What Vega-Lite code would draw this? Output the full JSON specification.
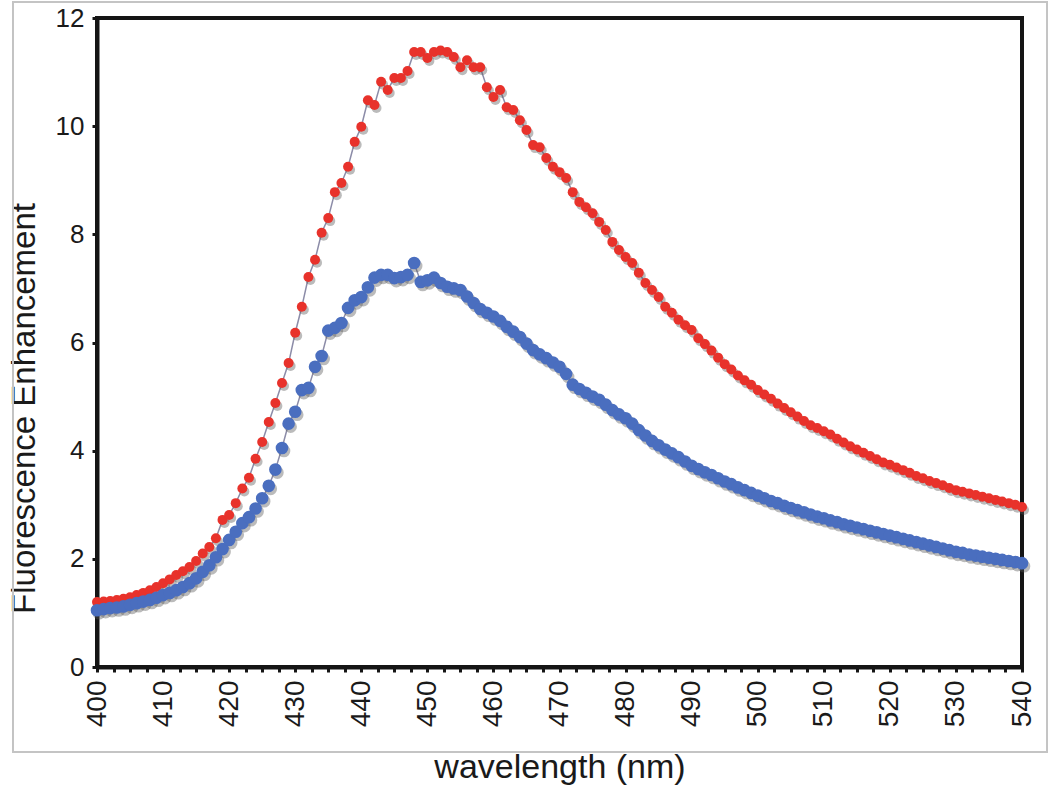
{
  "$schema": "https://vega.github.io/schema/vega-lite/v6.json",
  "autosize": "none",
  "width": 925,
  "height": 649,
  "padding": {"left": 97, "top": 18, "right": 28, "bottom": 122},
  "background": "white",
  "config": {
    "font": "Liberation Sans",
    "view": {"stroke": "#151515", "strokeWidth": 4},
    "axis": {"grid": false, "domainColor": "#151515", "domainWidth": 4, "tickColor": "#151515", "labelColor": "#1a1a1a", "titleColor": "#1a1a1a", "titleFontWeight": "normal", "labelFont": "Liberation Sans", "titleFont": "Liberation Sans"}
  },
  "data": {"values": [
    {"wl":400,"red":1.20,"blue":1.05},{"wl":401,"red":1.21,"blue":1.07},{"wl":402,"red":1.22,"blue":1.09},{"wl":403,"red":1.24,"blue":1.10},{"wl":404,"red":1.26,"blue":1.12},
    {"wl":405,"red":1.29,"blue":1.15},{"wl":406,"red":1.33,"blue":1.18},{"wl":407,"red":1.37,"blue":1.21},{"wl":408,"red":1.42,"blue":1.24},{"wl":409,"red":1.48,"blue":1.28},
    {"wl":410,"red":1.55,"blue":1.33},{"wl":411,"red":1.62,"blue":1.37},{"wl":412,"red":1.70,"blue":1.42},{"wl":413,"red":1.77,"blue":1.48},{"wl":414,"red":1.85,"blue":1.55},
    {"wl":415,"red":1.96,"blue":1.64},{"wl":416,"red":2.10,"blue":1.76},{"wl":417,"red":2.22,"blue":1.88},{"wl":418,"red":2.38,"blue":2.03},{"wl":419,"red":2.72,"blue":2.18},
    {"wl":420,"red":2.81,"blue":2.35},{"wl":421,"red":3.03,"blue":2.50},{"wl":422,"red":3.30,"blue":2.66},{"wl":423,"red":3.50,"blue":2.77},{"wl":424,"red":3.85,"blue":2.93},
    {"wl":425,"red":4.16,"blue":3.12},{"wl":426,"red":4.53,"blue":3.35},{"wl":427,"red":4.88,"blue":3.65},{"wl":428,"red":5.25,"blue":4.05},{"wl":429,"red":5.62,"blue":4.50},
    {"wl":430,"red":6.18,"blue":4.72},{"wl":431,"red":6.66,"blue":5.12},{"wl":432,"red":7.21,"blue":5.16},{"wl":433,"red":7.53,"blue":5.55},{"wl":434,"red":8.03,"blue":5.75},
    {"wl":435,"red":8.30,"blue":6.22},{"wl":436,"red":8.78,"blue":6.27},{"wl":437,"red":8.95,"blue":6.36},{"wl":438,"red":9.25,"blue":6.64},{"wl":439,"red":9.71,"blue":6.78},
    {"wl":440,"red":9.99,"blue":6.84},{"wl":441,"red":10.48,"blue":7.02},{"wl":442,"red":10.39,"blue":7.20},{"wl":443,"red":10.82,"blue":7.25},{"wl":444,"red":10.67,"blue":7.25},
    {"wl":445,"red":10.89,"blue":7.19},{"wl":446,"red":10.89,"blue":7.21},{"wl":447,"red":11.02,"blue":7.25},{"wl":448,"red":11.37,"blue":7.47},{"wl":449,"red":11.37,"blue":7.12},
    {"wl":450,"red":11.26,"blue":7.15},{"wl":451,"red":11.37,"blue":7.20},{"wl":452,"red":11.40,"blue":7.10},{"wl":453,"red":11.37,"blue":7.03},{"wl":454,"red":11.28,"blue":7.00},
    {"wl":455,"red":11.09,"blue":6.97},{"wl":456,"red":11.22,"blue":6.85},{"wl":457,"red":11.09,"blue":6.73},{"wl":458,"red":11.09,"blue":6.62},{"wl":459,"red":10.72,"blue":6.55},
    {"wl":460,"red":10.54,"blue":6.48},{"wl":461,"red":10.67,"blue":6.40},{"wl":462,"red":10.35,"blue":6.29},{"wl":463,"red":10.30,"blue":6.20},{"wl":464,"red":10.11,"blue":6.10},
    {"wl":465,"red":9.93,"blue":5.98},{"wl":466,"red":9.65,"blue":5.86},{"wl":467,"red":9.61,"blue":5.78},{"wl":468,"red":9.41,"blue":5.71},{"wl":469,"red":9.25,"blue":5.63},
    {"wl":470,"red":9.15,"blue":5.55},{"wl":471,"red":9.04,"blue":5.42},{"wl":472,"red":8.78,"blue":5.22},{"wl":473,"red":8.60,"blue":5.14},{"wl":474,"red":8.50,"blue":5.07},
    {"wl":475,"red":8.39,"blue":5.00},{"wl":476,"red":8.23,"blue":4.94},{"wl":477,"red":8.08,"blue":4.85},{"wl":478,"red":7.86,"blue":4.75},{"wl":479,"red":7.71,"blue":4.67},
    {"wl":480,"red":7.58,"blue":4.60},{"wl":481,"red":7.47,"blue":4.50},{"wl":482,"red":7.29,"blue":4.38},{"wl":483,"red":7.10,"blue":4.28},{"wl":484,"red":6.97,"blue":4.18},
    {"wl":485,"red":6.84,"blue":4.10},{"wl":486,"red":6.66,"blue":4.02},{"wl":487,"red":6.55,"blue":3.95},{"wl":488,"red":6.42,"blue":3.88},{"wl":489,"red":6.32,"blue":3.80},
    {"wl":490,"red":6.23,"blue":3.72},{"wl":491,"red":6.08,"blue":3.66},{"wl":492,"red":5.97,"blue":3.60},{"wl":493,"red":5.85,"blue":3.55},{"wl":494,"red":5.72,"blue":3.49},
    {"wl":495,"red":5.60,"blue":3.43},{"wl":496,"red":5.50,"blue":3.38},{"wl":497,"red":5.39,"blue":3.32},{"wl":498,"red":5.30,"blue":3.27},{"wl":499,"red":5.22,"blue":3.22},
    {"wl":500,"red":5.12,"blue":3.17},{"wl":501,"red":5.04,"blue":3.12},{"wl":502,"red":4.96,"blue":3.07},{"wl":503,"red":4.87,"blue":3.03},{"wl":504,"red":4.79,"blue":2.98},
    {"wl":505,"red":4.71,"blue":2.94},{"wl":506,"red":4.63,"blue":2.90},{"wl":507,"red":4.55,"blue":2.86},{"wl":508,"red":4.47,"blue":2.82},{"wl":509,"red":4.42,"blue":2.78},
    {"wl":510,"red":4.36,"blue":2.75},{"wl":511,"red":4.30,"blue":2.71},{"wl":512,"red":4.22,"blue":2.68},{"wl":513,"red":4.15,"blue":2.64},{"wl":514,"red":4.08,"blue":2.61},
    {"wl":515,"red":4.02,"blue":2.58},{"wl":516,"red":3.96,"blue":2.55},{"wl":517,"red":3.90,"blue":2.52},{"wl":518,"red":3.84,"blue":2.49},{"wl":519,"red":3.78,"blue":2.46},
    {"wl":520,"red":3.74,"blue":2.43},{"wl":521,"red":3.69,"blue":2.40},{"wl":522,"red":3.64,"blue":2.37},{"wl":523,"red":3.59,"blue":2.34},{"wl":524,"red":3.53,"blue":2.31},
    {"wl":525,"red":3.49,"blue":2.28},{"wl":526,"red":3.44,"blue":2.25},{"wl":527,"red":3.40,"blue":2.22},{"wl":528,"red":3.36,"blue":2.19},{"wl":529,"red":3.31,"blue":2.16},
    {"wl":530,"red":3.27,"blue":2.13},{"wl":531,"red":3.24,"blue":2.11},{"wl":532,"red":3.21,"blue":2.08},{"wl":533,"red":3.18,"blue":2.06},{"wl":534,"red":3.15,"blue":2.04},
    {"wl":535,"red":3.12,"blue":2.02},{"wl":536,"red":3.09,"blue":2.00},{"wl":537,"red":3.06,"blue":1.98},{"wl":538,"red":3.03,"blue":1.96},{"wl":539,"red":3.00,"blue":1.94},
    {"wl":540,"red":2.96,"blue":1.92}
  ]},
  "transform": [{"fold": ["red", "blue"], "as": ["series", "value"]}],
  "encoding": {
    "x": {"field": "wl", "type": "quantitative",
      "scale": {"domain": [400, 540], "nice": false, "zero": false},
      "axis": {"title": "wavelength (nm)", "titleFontSize": 34, "titlePadding": 24,
        "values": [400,402.5,405,407.5,410,412.5,415,417.5,420,422.5,425,427.5,430,432.5,435,437.5,440,442.5,445,447.5,450,452.5,455,457.5,460,462.5,465,467.5,470,472.5,475,477.5,480,482.5,485,487.5,490,492.5,495,497.5,500,502.5,505,507.5,510,512.5,515,517.5,520,522.5,525,527.5,530,532.5,535,537.5,540],
        "labelExpr": "datum.value % 10 === 0 ? datum.label : ''",
        "labelAngle": -90, "labelFontSize": 28, "labelPadding": 8, "tickSize": 5, "tickWidth": 3, "labelOverlap": false}},
    "y": {"field": "value", "type": "quantitative",
      "scale": {"domain": [0, 12], "nice": false},
      "axis": {"title": "Fluorescence Enhancement", "titleFontSize": 33, "titlePadding": 14, "titleY": 390,
        "values": [0,2,4,6,8,10,12], "labelFontSize": 26, "labelPadding": 8, "tickSize": 5, "tickWidth": 3}}
  },
  "layer": [
    {
      "mark": {"type": "rect", "fill": null, "stroke": "#c4c4c4", "strokeWidth": 1.5, "clip": false},
      "encoding": {
        "x": {"datum": 387.3, "type": "quantitative"},
        "x2": {"datum": 543.8},
        "y": {"datum": -1.57, "type": "quantitative"},
        "y2": {"datum": 12.3}
      }
    },
    {
      "mark": {"type": "line", "stroke": "#8c8ca8", "strokeWidth": 1.5},
      "encoding": {"detail": {"field": "series"}}
    },
    {
      "mark": {"type": "point", "filled": true, "shape": "circle", "xOffset": 2, "yOffset": 3, "color": "#555555", "opacity": 0.4},
      "encoding": {
        "size": {"field": "series", "type": "nominal", "scale": {"domain": ["red", "blue"], "range": [100, 160]}, "legend": null}
      }
    },
    {
      "mark": {"type": "point", "filled": true, "shape": "circle", "opacity": 1},
      "encoding": {
        "color": {"field": "series", "type": "nominal", "scale": {"domain": ["red", "blue"], "range": ["#e8322b", "#4a6ebf"]}, "legend": null},
        "size": {"field": "series", "type": "nominal", "scale": {"domain": ["red", "blue"], "range": [62, 115]}, "legend": null}
      }
    }
  ]
}
